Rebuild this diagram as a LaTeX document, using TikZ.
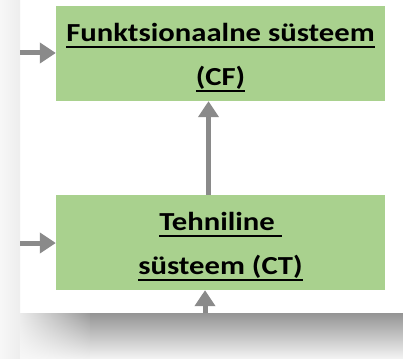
\documentclass[tikz,border=0pt]{standalone}
\usepackage{fontspec}
\setmainfont{Carlito}
\usetikzlibrary{arrows.meta,positioning,shadings}
\definecolor{boxgreen}{HTML}{A9D18E}
\definecolor{arrowgray}{HTML}{8A8A8A}
\newsavebox{\ulinebox}
\newcommand{\ulined}[1]{\sbox{\ulinebox}{\scalebox{1.18}[1]{#1}}\rlap{\rule[-6.5pt]{\wd\ulinebox}{2.4pt}}\usebox{\ulinebox}}

\begin{document}
\begin{tikzpicture}[x=1pt, y=-1pt,
    sysbox/.style={rectangle, fill=boxgreen, minimum width=329pt, minimum height=95pt,
        inner sep=0pt, align=center, text height=64pt, text depth=0pt,
        font=\fontsize{26}{44}\selectfont\bfseries},
    flow/.style={arrowgray, line width=5pt, -{Triangle[width=20pt, length=16pt]}}
]
    % Background and frame
    \useasboundingbox (0,0) rectangle (403,358);
    \fill[white] (0,0) rectangle (403,358);
    \shade[left color=black!3, right color=black!7] (0,0) rectangle (20,358);

    % Shadow at the bottom
    \shade[upper left=black!8, upper right=black!40, lower left=black!3, lower right=black!6] (20,313) rectangle (90,358);
    \shade[top color=black!42, bottom color=black!5] (90,313) rectangle (403,358);

    % Systems
    \node[sysbox] (cf) at (220.5,53.5) {\ulined{Funktsionaalne süsteem}\\ \ulined{(CF)}};
    \node[sysbox] (ct) at (220.5,242.5) {\ulined{Tehniline\ }\\ \ulined{süsteem (CT)}};

    % Inputs
    \coordinate (inF) at (20,53);
    \coordinate (inT) at (20,243);
    \coordinate (inB) at (205,313);

    \draw[flow] (inF) -- (inF -| cf.west);
    \draw[flow] (inT) -- (inT -| ct.west);
    \draw[flow] ([xshift=-12pt]ct.north) -- ([xshift=-12pt]cf.south);
    \draw[flow] (inB) -- (inB |- ct.south);
\end{tikzpicture}
\end{document}
